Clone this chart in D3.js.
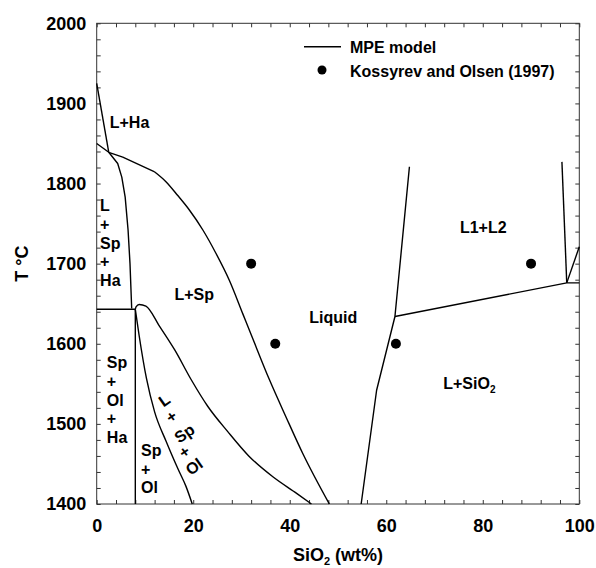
<!DOCTYPE html>
<html>
<head>
<meta charset="utf-8">
<script src="https://cdn.jsdelivr.net/npm/d3@7"></script>
<style>
  html, body { margin: 0; padding: 0; background: #fff; }
  svg { display: block; }
  text { font-family: "Liberation Sans", Arial, sans-serif; font-weight: bold; fill: #000; }
</style>
</head>
<body>
<svg id="chart" width="596" height="568"></svg>
<script>
// ---------- DATA (x = SiO2 wt%, y = T °C) ----------
const xTickLabels = [0, 20, 40, 60, 80, 100];
const yTickLabels = [1400, 1500, 1600, 1700, 1800, 1900, 2000];

// MPE model phase boundaries
const haLiquidus = [[0, 1925], [2.5, 1839]];
const spLiquidusUpper = [[0, 1850], [2.5, 1839], [5.4, 1833], [11.9, 1815]];
const spLiquidusLower = [[11.9, 1815], [14.4, 1802], [16.8, 1785],
  [19.2, 1767], [22, 1742], [24.7, 1713], [27.5, 1679], [30.3, 1637], [32.1, 1610],
  [35.8, 1555], [39.2, 1509], [42.7, 1463], [48.2, 1400]];
const spHaBoundary = [[2.5, 1839], [4.35, 1825], [5.2, 1808], [5.9, 1783], [6.5, 1742],
  [6.9, 1700], [7.25, 1644]];
const haEutectic = [[0, 1643], [8.0, 1643]];
const olSolidus = [[8.0, 1643], [8.0, 1400]];
const olLiquidus = [[8.0, 1643], [8.15, 1646], [8.8, 1649], [10.2, 1647], [13, 1622], [16.2, 1592],
  [19.5, 1556], [23, 1522], [27.2, 1490], [31.5, 1460], [36.5, 1434], [41.5, 1413], [44.5, 1400]];
const spOlBoundary = [[8.0, 1643], [8.8, 1610], [10.3, 1557], [12.0, 1515], [14.4, 1478],
  [16.9, 1443], [18.5, 1422], [19.8, 1400]];
const silicaLiquidus = [[54.8, 1400], [58, 1542], [61.8, 1634], [64.8, 1821]];
const monotectic = [[61.8, 1634], [97.4, 1676], [100, 1676]];
const gapLeft = [[96.4, 1827], [97.4, 1676]];
const gapRight = [[97.4, 1676], [100, 1721]];
const smoothLines = [spLiquidusLower, olLiquidus, spOlBoundary];
const straightLines = [haLiquidus, spLiquidusUpper, spHaBoundary, haEutectic, olSolidus,
  silicaLiquidus, monotectic, gapLeft, gapRight];

// Kossyrev and Olsen (1997) experimental points
const expSiO2 = [32, 37, 62, 90];
const expT = [1700, 1600, 1600, 1700];

// Phase-field labels
const regionNames = ["L+Ha", "L+Sp", "Liquid", "L1+L2"];
const regionSiO2 = [6.8, 20.2, 49, 80.1];
const regionT = [1869, 1654.5, 1625.4, 1737.7];

const stackLabels = [["L", "+", "Sp", "+", "Ha"], ["Sp", "+", "Ol", "+", "Ha"], ["Sp", "+", "Ol"]];
const stackSiO2 = [0.7, 2.1, 9.2];
const stackT = [1765.5, 1569.6, 1460];

const tiltedLabel = ["L", "+", "Sp", "+", "Ol"];
const tiltedSiO2 = [14.0, 15.5, 18.2, 18.2, 20.2];
const tiltedT = [1529.7, 1509, 1488, 1465, 1446.5];

// ---------- LAYOUT ----------
const svg = d3.select("#chart");
const W = 596, H = 568;
const m = { left: 96.7, right: 16.7, top: 23.3, bottom: 64 };
const x = d3.scaleLinear().domain([0, 100]).range([m.left, W - m.right]);
const y = d3.scaleLinear().domain([1400, 2000]).range([H - m.bottom, m.top]);
const frameColor = "#333";

// axes (inward ticks on all four sides)
const xMinor = d3.range(0, 101, 4);
const yMinor = d3.range(1400, 2001, 20);
const fmtX = d => xTickLabels.includes(d) ? String(d) : "";
const fmtY = d => yTickLabels.includes(d) ? String(d) : "";

const gB = svg.append("g").attr("transform", `translate(0,${y(1400)})`)
  .call(d3.axisBottom(x).tickValues(xMinor).tickFormat(fmtX).tickSize(-4).tickPadding(15));
const gT = svg.append("g").attr("transform", `translate(0,${y(2000)})`)
  .call(d3.axisTop(x).tickValues(xMinor).tickFormat("").tickSize(-4));
const gL = svg.append("g").attr("transform", `translate(${x(0)},0)`)
  .call(d3.axisLeft(y).tickValues(yMinor).tickFormat(fmtY).tickSize(-4).tickPadding(10.5));
const gR = svg.append("g").attr("transform", `translate(${x(100)},0)`)
  .call(d3.axisRight(y).tickValues(yMinor).tickFormat("").tickSize(-4));
[gB, gT, gL, gR].forEach(g => {
  g.select(".domain").remove();
  g.selectAll(".tick line").attr("stroke", frameColor).attr("stroke-width", 1);
  g.selectAll(".tick text").attr("font-size", 18).attr("font-family", "'Liberation Sans', Arial, sans-serif")
    .attr("font-weight", "bold").attr("fill", "#000");
});
svg.append("rect").attr("x", x(0)).attr("y", y(2000)).attr("width", x(100) - x(0))
  .attr("height", y(1400) - y(2000)).attr("fill", "none").attr("stroke", frameColor).attr("stroke-width", 1);

// axis titles
const xt = svg.append("text").attr("x", (x(0) + x(100)) / 2).attr("y", 561)
  .attr("text-anchor", "middle").attr("font-size", 18);
xt.append("tspan").text("SiO");
xt.append("tspan").attr("font-size", 11).attr("dy", 4).text("2");
xt.append("tspan").attr("dy", -4).text(" (wt%)");

svg.append("text").attr("transform", `translate(28,${(y(1400) + y(2000)) / 2}) rotate(-90)`)
  .attr("text-anchor", "middle").attr("font-size", 18).text("T °C");

// model lines
const lineStraight = d3.line().x(d => x(d[0])).y(d => y(d[1]));
const lineSmooth = d3.line().x(d => x(d[0])).y(d => y(d[1])).curve(d3.curveMonotoneX);
const gLines = svg.append("g").attr("fill", "none").attr("stroke", "#000")
  .attr("stroke-width", 1.4).attr("stroke-linejoin", "round");
gLines.selectAll("path.s").data(smoothLines).join("path").attr("class", "s").attr("d", lineSmooth);
gLines.selectAll("path.l").data(straightLines).join("path").attr("class", "l").attr("d", lineStraight);

// experimental points
svg.append("g").selectAll("circle").data(expSiO2).join("circle")
  .attr("cx", d => x(d)).attr("cy", (d, i) => y(expT[i])).attr("r", 5).attr("fill", "#000");

// region labels
svg.append("g").selectAll("text").data(regionNames).join("text")
  .attr("x", (d, i) => x(regionSiO2[i])).attr("y", (d, i) => y(regionT[i]))
  .attr("text-anchor", "middle").attr("font-size", 16).text(d => d);

const ls = svg.append("text").attr("x", x(71.8)).attr("y", y(1544)).attr("font-size", 16);
ls.append("tspan").text("L+SiO");
ls.append("tspan").attr("font-size", 10).attr("dy", 4).text("2");

stackLabels.forEach((lines, k) => {
  const g = svg.append("text").attr("font-size", 16);
  lines.forEach((t, i) => {
    g.append("tspan").attr("x", x(stackSiO2[k])).attr("y", y(stackT[k]) + i * 18.7).text(t);
  });
});

svg.append("g").selectAll("text").data(tiltedLabel).join("text")
  .attr("transform", (d, i) => `translate(${x(tiltedSiO2[i])},${y(tiltedT[i])}) rotate(-35)`)
  .attr("text-anchor", "middle").attr("dominant-baseline", "central")
  .attr("font-size", 16).text(d => d);

// legend
svg.append("line").attr("x1", 304).attr("x2", 341).attr("y1", 46.7).attr("y2", 46.7)
  .attr("stroke", "#000").attr("stroke-width", 1.4);
svg.append("text").attr("x", 350).attr("y", 53).attr("font-size", 16).text("MPE model");
svg.append("circle").attr("cx", 322).attr("cy", 70).attr("r", 4.5).attr("fill", "#000");
svg.append("text").attr("x", 350).attr("y", 76.5).attr("font-size", 16).text("Kossyrev and Olsen (1997)");
</script>
</body>
</html>
